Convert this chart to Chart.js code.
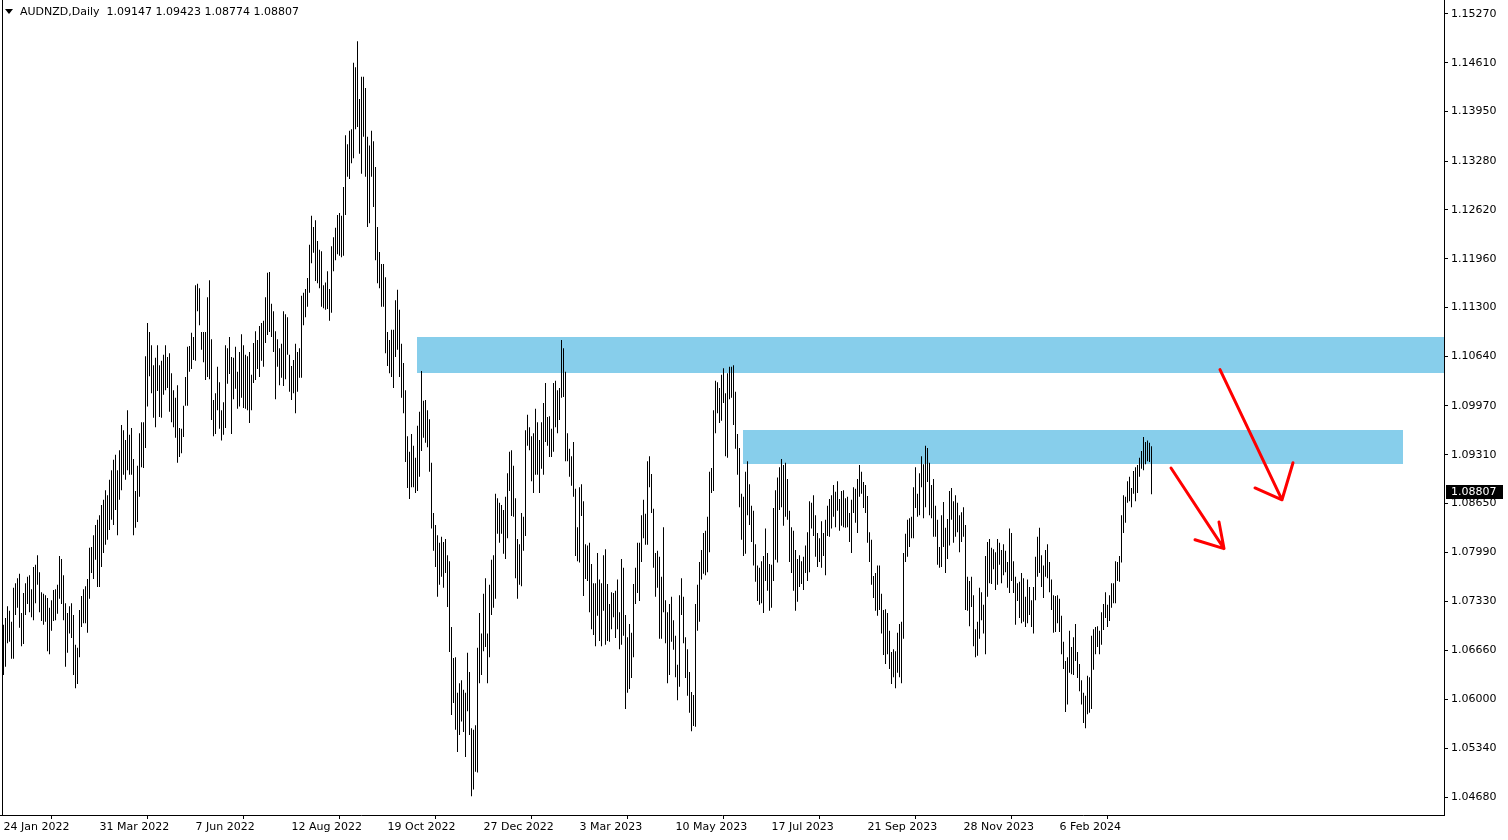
<!DOCTYPE html>
<html><head><meta charset="utf-8">
<script src="https://cdn.jsdelivr.net/npm/chart.js@4.4.1/dist/chart.umd.min.js"></script>
<style>html,body{margin:0;padding:0;background:#fff;overflow:hidden}canvas{display:block}</style>
</head><body>
<canvas id="c" width="1508" height="840"></canvas>
<script>
// ---------- DATA ----------
const symbol = "AUDNZD,Daily";
const lastQuote = ["1.09147", "1.09423", "1.08774", "1.08807"]; // O H L C of the last bar
const lastClose = 1.08807;

const dateTickIndex = [0, 48, 96, 144, 192, 240, 288, 336, 384, 432, 480, 528];
const dateTickLabels = ["24 Jan 2022","31 Mar 2022","7 Jun 2022","12 Aug 2022","19 Oct 2022","27 Dec 2022","3 Mar 2023","10 May 2023","17 Jul 2023","21 Sep 2023","28 Nov 2023","6 Feb 2024"];
const priceTicks = [1.15270,1.14610,1.13950,1.13280,1.12620,1.11960,1.11300,1.10640,1.09970,1.09310,1.08650,1.07990,1.07330,1.06660,1.06000,1.05340,1.04680];

const highs = [
1.0701,1.0710,1.0726,1.0720,1.0705,1.0751,1.0757,1.0764,1.0770,1.0717,
1.0744,1.0757,1.0766,1.0768,1.0749,1.0779,1.0782,1.0795,1.0772,1.0745,
1.0743,1.0741,1.0737,1.0724,1.0734,1.0748,1.0749,1.0755,1.0794,1.0790,
1.0768,1.0730,1.0717,1.0726,1.0730,1.0714,1.0674,1.0670,1.0721,1.0740,
1.0749,1.0753,1.0763,1.0805,1.0806,1.0822,1.0836,1.0843,1.0849,1.0863,
1.0870,1.0883,1.0876,1.0897,1.0910,1.0924,1.0931,1.0910,1.0937,1.0971,
1.0964,1.0951,1.0991,1.0958,1.0967,1.0925,1.0882,1.0916,1.0960,1.0975,
1.0975,1.1064,1.1109,1.1097,1.1079,1.1052,1.1062,1.1079,1.1052,1.1058,
1.1066,1.1079,1.1063,1.1068,1.1041,1.1018,1.1008,1.1025,1.0967,1.0966,
1.0997,1.1036,1.1077,1.1078,1.1096,1.1090,1.1160,1.1162,1.1156,1.1097,
1.1097,1.1097,1.1144,1.1167,1.1087,1.1005,1.1014,1.1050,1.1029,1.0991,
1.1002,1.1079,1.1075,1.1090,1.1063,1.1062,1.1077,1.1043,1.1070,1.1094,
1.1079,1.1066,1.1064,1.1070,1.1039,1.1082,1.1098,1.1086,1.1105,1.1109,
1.1112,1.1144,1.1177,1.1178,1.1135,1.1125,1.1098,1.1087,1.1075,1.1081,
1.1125,1.1121,1.1117,1.1066,1.1051,1.1059,1.1081,1.1070,1.1075,1.1146,
1.1150,1.1155,1.1170,1.1215,1.1254,1.1239,1.1248,1.1220,1.1208,1.1206,
1.1160,1.1164,1.1179,1.1155,1.1213,1.1225,1.1238,1.1255,1.1258,1.1254,
1.1293,1.1363,1.1351,1.1369,1.1371,1.1461,1.1455,1.1490,1.1412,1.1442,
1.1442,1.1427,1.1361,1.1349,1.1369,1.1355,1.1320,1.1239,1.1205,1.1189,
1.1189,1.1171,1.1097,1.1086,1.1100,1.1100,1.1140,1.1154,1.1127,1.1081,
1.1055,1.1018,1.0956,1.0935,1.0959,1.0943,1.0927,1.0970,1.0989,1.1044,
1.1004,1.1005,1.0991,1.0979,1.0920,1.0852,1.0836,1.0822,1.0812,1.0820,
1.0813,1.0817,1.0795,1.0787,1.0698,1.0656,1.0657,1.0609,1.0622,1.0626,
1.0613,1.0609,1.0663,1.0637,1.0561,1.0559,1.0565,1.0670,1.0717,1.0689,
1.0743,1.0764,1.0689,1.0755,1.0789,1.0795,1.0878,1.0872,1.0866,1.0863,
1.0856,1.0874,1.0906,1.0935,1.0937,1.0916,1.0872,1.0817,1.0810,1.0852,
1.0847,1.0964,1.0985,1.0968,1.0956,1.0960,1.0993,1.0975,1.0951,1.0975,
1.1001,1.1028,1.0982,1.0983,1.0966,1.1028,1.1031,1.1018,1.1021,1.1086,
1.1075,1.1043,1.0960,1.0939,1.0929,1.0948,1.0885,1.0833,1.0887,1.0891,
1.0868,1.0810,1.0808,1.0812,1.0783,1.0757,1.0757,1.0798,1.0762,1.0757,
1.0795,1.0803,1.0756,1.0729,1.0745,1.0744,1.0747,1.0762,1.0718,1.0790,
1.0778,1.0714,1.0684,1.0702,1.0690,1.0756,1.0778,1.0812,1.0812,1.0849,
1.0870,1.0851,1.0922,1.0929,1.0905,1.0858,1.0798,1.0801,1.0793,1.0766,
1.0833,1.0734,1.0718,1.0729,1.0739,1.0707,1.0686,1.0647,1.0741,1.0764,
1.0739,1.0684,1.0668,1.0637,1.0610,1.0606,1.0729,1.0755,1.0786,1.0802,
1.0825,1.0828,1.0847,1.0908,1.0913,1.0991,1.1031,1.1029,1.1021,1.1039,
1.1048,1.1014,1.1041,1.1050,1.1050,1.1052,1.1016,1.0959,1.0940,1.0878,
1.0874,1.0908,1.0922,1.0891,1.0862,1.0855,1.0810,1.0781,1.0778,1.0787,
1.0794,1.0831,1.0798,1.0783,1.0782,1.0859,1.0883,1.0900,1.0914,1.0925,
1.0917,1.0920,1.0898,1.0855,1.0833,1.0828,1.0802,1.0790,1.0795,1.0787,
1.0793,1.0808,1.0826,1.0868,1.0866,1.0876,1.0849,1.0825,1.0818,1.0841,
1.0825,1.0843,1.0862,1.0871,1.0876,1.0890,1.0881,1.0895,1.0871,1.0882,
1.0883,1.0872,1.0874,1.0852,1.0870,1.0887,1.0885,1.0898,1.0917,1.0908,
1.0894,1.0890,1.0875,1.0826,1.0816,1.0767,1.0771,1.0781,1.0781,1.0743,
1.0721,1.0722,1.0717,1.0693,1.0664,1.0668,1.0665,1.0690,1.0702,1.0705,
1.0798,1.0824,1.0843,1.0845,1.0847,1.0887,1.0914,1.0878,1.0906,1.0929,
1.0918,1.0943,1.0940,1.0920,1.0890,1.0898,1.0862,1.0843,1.0806,1.0849,
1.0867,1.0832,1.0844,1.0882,1.0886,1.0868,1.0876,1.0866,1.0849,1.0853,
1.0860,1.0836,1.0766,1.0760,1.0766,1.0741,1.0695,1.0705,1.0751,1.0745,
1.0728,1.0794,1.0813,1.0817,1.0805,1.0803,1.0799,1.0817,1.0812,1.0802,
1.0810,1.0801,1.0786,1.0831,1.0825,1.0787,1.0766,1.0757,1.0759,1.0771,
1.0764,1.0739,1.0762,1.0752,1.0734,1.0752,1.0793,1.0820,1.0832,1.0795,
1.0781,1.0802,1.0810,1.0786,1.0762,1.0741,1.0740,1.0741,1.0736,1.0713,
1.0678,1.0652,1.0657,1.0693,1.0671,1.0684,1.0702,1.0664,1.0648,1.0626,
1.0609,1.0605,1.0632,1.0630,1.0686,1.0695,1.0698,1.0699,1.0693,1.0718,
1.0729,1.0745,1.0728,1.0741,1.0757,1.0757,1.0787,1.0786,1.0794,1.0849,
1.0876,1.0874,1.0895,1.0901,1.0886,1.0909,1.0914,1.0917,1.0927,1.0936,
1.0955,1.0948,1.0950,1.0947,1.09423];

const lows = [
1.0633,1.0644,1.0676,1.0678,1.0655,1.0655,1.0714,1.0724,1.0697,1.0672,
1.0675,1.0714,1.0729,1.0718,1.0711,1.0707,1.0730,1.0755,1.0718,1.0706,
1.0701,1.0705,1.0665,1.0661,1.0693,1.0706,1.0707,1.0716,1.0736,1.0729,
1.0707,1.0644,1.0663,1.0689,1.0683,1.0633,1.0615,1.0621,1.0657,1.0698,
1.0703,1.0703,1.0690,1.0736,1.0771,1.0763,1.0789,1.0752,1.0752,1.0779,
1.0798,1.0809,1.0816,1.0829,1.0843,1.0836,1.0856,1.0822,1.0870,1.0883,
1.0904,1.0897,1.0910,1.0904,1.0904,1.0822,1.0832,1.0840,1.0874,1.0914,
1.0913,1.0940,1.0996,1.1037,1.1014,1.0981,1.0968,1.1017,1.0982,1.0981,
1.1012,1.1018,1.1021,1.0989,1.0975,1.0968,1.0954,1.0920,1.0928,1.0933,
1.0955,1.0997,1.0997,1.1043,1.1047,1.1059,1.1058,1.1125,1.1106,1.1073,
1.1056,1.1032,1.1036,1.1033,1.0978,1.0956,1.0959,1.0991,1.0966,1.0950,
1.0958,1.0967,1.1027,1.1040,1.0959,1.1006,1.1020,1.0993,1.0996,1.1008,
1.0994,1.0993,1.0991,1.0974,1.0991,1.1028,1.1032,1.1047,1.1036,1.1058,
1.1050,1.1082,1.1093,1.1097,1.1090,1.1070,1.1006,1.1050,1.1025,1.1035,
1.1024,1.1033,1.1066,1.1016,1.1005,1.1014,1.0987,1.1016,1.1035,1.1035,
1.1106,1.1117,1.1131,1.1150,1.1190,1.1204,1.1166,1.1163,1.1156,1.1131,
1.1129,1.1127,1.1128,1.1112,1.1123,1.1179,1.1194,1.1202,1.1200,1.1198,
1.1200,1.1255,1.1307,1.1304,1.1325,1.1332,1.1371,1.1374,1.1338,1.1311,
1.1361,1.1307,1.1239,1.1244,1.1307,1.1266,1.1194,1.1163,1.1156,1.1131,
1.1131,1.1068,1.1051,1.1041,1.1036,1.1021,1.1063,1.1073,1.1036,1.1008,
1.0987,1.0921,1.0886,1.0871,1.0887,1.0887,1.0879,1.0882,1.0901,1.0936,
1.0954,1.0947,1.0941,1.0908,1.0831,1.0801,1.0779,1.0739,1.0755,1.0766,
1.0751,1.0771,1.0725,1.0664,1.0579,1.0595,1.0559,1.0529,1.0552,1.0570,
1.0556,1.0522,1.0584,1.0552,1.0469,1.0478,1.0502,1.0501,1.0622,1.0633,
1.0665,1.0671,1.0622,1.0657,1.0714,1.0724,1.0736,1.0824,1.0812,1.0824,
1.0797,1.0790,1.0818,1.0882,1.0848,1.0847,1.0764,1.0736,1.0755,1.0753,
1.0801,1.0821,1.0943,1.0937,1.0895,1.0879,1.0904,1.0904,1.0879,1.0912,
1.0904,1.0948,1.0943,1.0928,1.0928,1.0935,1.0968,1.0960,1.0978,1.1008,
1.1009,1.0922,1.0922,1.0901,1.0889,1.0874,1.0794,1.0787,1.0785,1.0848,
1.0740,1.0763,1.0760,1.0718,1.0695,1.0687,1.0672,1.0713,1.0679,1.0672,
1.0720,1.0674,1.0679,1.0678,1.0695,1.0711,1.0683,1.0695,1.0668,1.0674,
1.0686,1.0587,1.0609,1.0614,1.0629,1.0657,1.0729,1.0744,1.0733,1.0786,
1.0818,1.0809,1.0809,1.0887,1.0852,1.0778,1.0739,1.0751,1.0682,1.0682,
1.0718,1.0676,1.0622,1.0633,1.0678,1.0667,1.0630,1.0599,1.0617,1.0714,
1.0676,1.0629,1.0605,1.0582,1.0557,1.0564,1.0563,1.0693,1.0705,1.0762,
1.0770,1.0768,1.0772,1.0799,1.0879,1.0882,1.0960,1.0987,1.0974,1.0977,
1.1001,1.0929,1.0927,1.1006,1.1008,1.0971,1.0939,1.0904,1.0860,1.0816,
1.0794,1.0797,1.0849,1.0836,1.0813,1.0781,1.0759,1.0733,1.0728,1.0730,
1.0717,1.0760,1.0747,1.0720,1.0724,1.0760,1.0789,1.0785,1.0856,1.0860,
1.0835,1.0847,1.0843,1.0786,1.0771,1.0747,1.0720,1.0732,1.0752,1.0756,
1.0748,1.0771,1.0760,1.0772,1.0831,1.0821,1.0793,1.0779,1.0786,1.0778,
1.0794,1.0768,1.0821,1.0820,1.0831,1.0847,1.0833,1.0855,1.0828,1.0835,
1.0833,1.0832,1.0833,1.0813,1.0798,1.0852,1.0839,1.0825,1.0874,1.0878,
1.0859,1.0852,1.0812,1.0786,1.0755,1.0737,1.0720,1.0713,1.0721,1.0689,
1.0660,1.0648,1.0661,1.0641,1.0621,1.0630,1.0615,1.0636,1.0630,1.0622,
1.0682,1.0786,1.0793,1.0806,1.0818,1.0818,1.0859,1.0847,1.0849,1.0887,
1.0845,1.0860,1.0894,1.0849,1.0845,1.0820,1.0820,1.0782,1.0778,1.0779,
1.0806,1.0771,1.0790,1.0808,1.0843,1.0812,1.0820,1.0826,1.0799,1.0813,
1.0820,1.0721,1.0720,1.0699,1.0725,1.0672,1.0657,1.0659,1.0682,1.0707,
1.0689,1.0661,1.0739,1.0757,1.0756,1.0776,1.0748,1.0755,1.0782,1.0757,
1.0768,1.0772,1.0751,1.0744,1.0760,1.0744,1.0701,1.0733,1.0710,1.0703,
1.0705,1.0698,1.0703,1.0714,1.0698,1.0689,1.0734,1.0766,1.0771,1.0752,
1.0737,1.0766,1.0764,1.0745,1.0721,1.0690,1.0691,1.0703,1.0691,1.0661,
1.0641,1.0583,1.0593,1.0636,1.0634,1.0633,1.0652,1.0629,1.0611,1.0593,
1.0568,1.0561,1.0580,1.0582,1.0587,1.0640,1.0661,1.0671,1.0661,1.0674,
1.0694,1.0710,1.0698,1.0706,1.0724,1.0730,1.0730,1.0760,1.0759,1.0785,
1.0825,1.0839,1.0866,1.0868,1.0860,1.0878,1.0868,1.0879,1.0901,1.0912,
1.0910,1.0918,1.0922,1.0921,1.08774];

// drawn objects (bar-index / price coordinates)
const zoneFrom   = [206.6, 369.6];
const zoneTo     = [720.25, 699.75];
const zoneTop    = [1.1090, 1.0964];
const zoneBottom = [1.1041, 1.0918];

const arrowFromX = [583.75, 608.25];
const arrowFromY = [1.0913, 1.1046];
const arrowToX   = [610.25, 639.25];
const arrowToY   = [1.0804, 1.0870];
const barbAX     = [595.75, 625.75];
const barbAY     = [1.0816, 1.0886];
const barbBX     = [607.75, 644.75];
const barbBY     = [1.0840, 1.0920];

// ---------- CHART ----------
const FONT = "'DejaVu Sans', Verdana, sans-serif";
const bars = highs.map((h, i) => ({ x: i, y: [lows[i], h] }));

const mt4Plugin = {
  id: 'mt4',
  beforeDatasetsDraw(chart) {
    const { ctx, chartArea: a, scales: { x, y } } = chart;
    ctx.save();
    ctx.beginPath(); ctx.rect(a.left, a.top, a.right - a.left, a.bottom - a.top); ctx.clip();
    ctx.fillStyle = '#87CEEB';
    for (let k = 0; k < zoneFrom.length; k++) {
      const x0 = Math.round(x.getPixelForValue(zoneFrom[k]));
      const x1 = Math.round(x.getPixelForValue(zoneTo[k]));
      const y0 = Math.round(y.getPixelForValue(zoneTop[k]));
      const y1 = Math.round(y.getPixelForValue(zoneBottom[k]));
      ctx.fillRect(x0, y0, x1 - x0, y1 - y0);
    }
    // left frame line
    ctx.fillStyle = '#000';
    ctx.fillRect(a.left + 2, a.top, 1, a.bottom - a.top);
    ctx.restore();
  },
  afterDraw(chart) {
    const { ctx, chartArea: a, scales: { x, y } } = chart;
    ctx.save();
    // arrows
    ctx.strokeStyle = '#FF0000';
    ctx.lineWidth = 3;
    ctx.lineCap = 'round';
    ctx.lineJoin = 'round';
    for (let k = 0; k < arrowFromX.length; k++) {
      const x0 = x.getPixelForValue(arrowFromX[k]), y0 = y.getPixelForValue(arrowFromY[k]);
      const x1 = x.getPixelForValue(arrowToX[k]), y1 = y.getPixelForValue(arrowToY[k]);
      ctx.beginPath();
      ctx.moveTo(x0, y0); ctx.lineTo(x1, y1);
      ctx.moveTo(x.getPixelForValue(barbAX[k]), y.getPixelForValue(barbAY[k]));
      ctx.lineTo(x1, y1);
      ctx.lineTo(x.getPixelForValue(barbBX[k]), y.getPixelForValue(barbBY[k]));
      ctx.stroke();
    }
    // title
    ctx.fillStyle = '#000';
    ctx.beginPath(); ctx.moveTo(5, 9); ctx.lineTo(13, 9); ctx.lineTo(9, 14); ctx.closePath(); ctx.fill();
    ctx.font = '11px ' + FONT;
    ctx.textBaseline = 'middle';
    ctx.textAlign = 'left';
    ctx.fillText(symbol + '  ' + lastQuote.join(' '), 20, 12);
    // current price label
    const py = Math.round(y.getPixelForValue(lastClose));
    ctx.fillStyle = '#000';
    ctx.fillRect(a.right + 2, py - 7, 57, 14);
    ctx.fillStyle = '#fff';
    ctx.fillText(lastClose.toFixed(5), a.right + 7, py);
    ctx.restore();
  }
};

new Chart(document.getElementById('c'), {
  type: 'bar',
  data: { datasets: [{ data: bars, backgroundColor: '#000', borderWidth: 0, barThickness: 1, inflateAmount: 0, grouped: false }] },
  options: {
    responsive: false, animation: false, devicePixelRatio: 1,
    layout: { padding: 0 },
    plugins: { legend: { display: false }, tooltip: { enabled: false } },
    scales: {
      x: {
        type: 'linear', position: 'bottom', min: -1.75, max: 720.25, offset: false,
        afterFit(s) { s.height = 25; s.paddingLeft = 0; s.paddingRight = 0; },
        afterBuildTicks(s) { s.ticks = dateTickIndex.map(v => ({ value: v })); },
        ticks: {
          autoSkip: false, maxRotation: 0, minRotation: 0, align: 'start', padding: 2,
          color: '#000', font: { family: FONT, size: 11 },
          callback(v) { const k = dateTickIndex.indexOf(v); return k >= 0 ? dateTickLabels[k] : ''; }
        },
        grid: { display: true, drawOnChartArea: false, drawTicks: true, tickLength: 4, color: '#000' },
        border: { display: true, color: '#000', width: 1 }
      },
      y: {
        type: 'linear', position: 'right', min: 1.044366, max: 1.154593,
        afterFit(s) { s.width = 64; s.paddingTop = 0; s.paddingBottom = 0; },
        afterBuildTicks(s) { s.ticks = priceTicks.map(v => ({ value: v })); },
        ticks: {
          autoSkip: false, padding: 3, color: '#000', font: { family: FONT, size: 11 },
          callback(v) { return Number(v).toFixed(5); }
        },
        grid: { display: true, drawOnChartArea: false, drawTicks: true, tickLength: 4, color: '#000' },
        border: { display: true, color: '#000', width: 1 }
      }
    }
  },
  plugins: [mt4Plugin]
});
</script>
</body></html>
